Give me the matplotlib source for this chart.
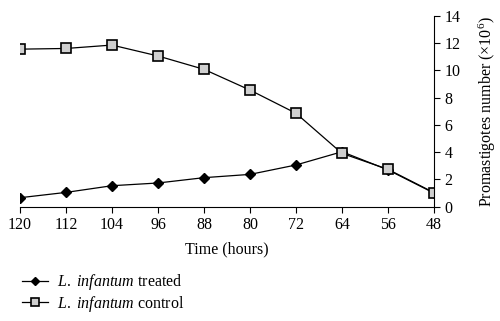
import numpy as np
import matplotlib
matplotlib.use('Agg')
import matplotlib.pyplot as plt

plt.rcParams.update({
    'font.family': 'Liberation Serif',
    'font.size': 11.5,
    'mathtext.fontset': 'custom',
    'mathtext.rm': 'Liberation Serif',
    'mathtext.it': 'Liberation Serif:italic',
})

# ── Data ──
hours = [120, 112, 104, 96, 88, 80, 72, 64, 56, 48]
treated = [0.66, 1.05, 1.54, 1.74, 2.13, 2.37, 3.06, 4.03, 2.7, 1.0]
control = [11.55, 11.6, 11.85, 11.05, 10.07, 8.55, 6.85, 3.91, 2.74, 1.03]

fig = plt.figure(figsize=(5, 3.21), dpi=100)
ax = fig.add_axes([0.04, 0.356, 0.828, 0.595])

ax.plot(hours, treated, 'k-', linewidth=0.9, marker='D', markersize=5.5,
        markerfacecolor='black', markeredgecolor='black',
        label=r'$\mathit{L.}$ $\mathit{infantum}$ treated')
ax.plot(hours, control, 'k-', linewidth=0.9, marker='s', markersize=7.5,
        markerfacecolor='#cfcfcf', markeredgecolor='black', markeredgewidth=1.2,
        label=r'$\mathit{L.}$ $\mathit{infantum}$ control')

ax.set_xlim(120, 48)
ax.set_ylim(0, 14)
ax.set_xticks(hours)
ax.set_yticks(range(0, 15, 2))

ax.yaxis.tick_right()
ax.yaxis.set_label_position('right')
ax.spines['top'].set_visible(False)
ax.spines['left'].set_visible(False)
ax.tick_params(axis='both', direction='out', length=4, width=0.8)

ax.set_xlabel('Time (hours)', labelpad=6)
ax.set_ylabel(r'Promastigotes number ($\times10^6$)', labelpad=12)

ax.legend(loc='upper left', bbox_to_anchor=(-0.01, -0.31), frameon=False,
          handlelength=1.6, handletextpad=0.6, labelspacing=0.1,
          borderaxespad=0, markerscale=0.8)

fig.savefig('out.png', dpi=100)
